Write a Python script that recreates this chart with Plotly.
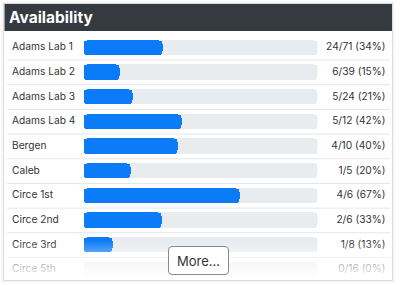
import plotly.graph_objects as go

# ---- data ----
title = "Availability"
rooms = ["Adams Lab 1", "Adams Lab 2", "Adams Lab 3", "Adams Lab 4", "Bergen",
         "Caleb", "Circe 1st", "Circe 2nd", "Circe 3rd", "Circe 5th"]
available = [24, 6, 5, 5, 4, 1, 4, 2, 1, 0]
total = [71, 39, 24, 12, 10, 5, 6, 6, 8, 16]
button_label = "More..."

W, H = 400, 285
frac = [a / t for a, t in zip(available, total)]
pct = [int(100 * f + 0.5) for f in frac]
right_labels = [f"{a}/{t} ({p}%)" for a, t, p in zip(available, total, pct)]
n = len(rooms)

def px(x):
    return x / W

def py(y):
    return 1 - y / H

FONT = "Inter, Roboto, sans-serif"
BLUE = "#0b7bf8"
TRACK = "#e9ecef"
BW = 0.62

fig = go.Figure()

# track right part on normal axis (rounded at right end)
fig.add_trace(go.Bar(y=rooms, x=[0.55] * n, base=[0.45] * n, orientation="h",
                     xaxis="x", yaxis="y",
                     marker=dict(color=TRACK, cornerradius=4, line=dict(width=0)),
                     width=BW, hoverinfo="skip"))
# track left part on reversed axis (rounded at left end)
fig.add_trace(go.Bar(y=rooms, x=[0.55] * n, base=[0.45] * n, orientation="h",
                     xaxis="x3", yaxis="y",
                     marker=dict(color=TRACK, cornerradius=4, line=dict(width=0)),
                     width=BW, hoverinfo="skip"))
# value bars on reversed axis: from position 0 to frac, rounded at left
fig.add_trace(go.Bar(y=rooms, x=frac, base=[1 - f for f in frac], orientation="h",
                     xaxis="x3", yaxis="y",
                     marker=dict(color=BLUE, cornerradius=4, line=dict(width=0)),
                     width=BW, hoverinfo="skip"))

# text labels as traces on a full-width axis (so the fade covers them)
fig.add_trace(go.Scatter(x=[12] * n, y=rooms, mode="text", text=rooms,
                         textposition="middle right", xaxis="x2", yaxis="y",
                         textfont=dict(family=FONT, size=10.2, color="#333"),
                         hoverinfo="skip"))
fig.add_trace(go.Scatter(x=[385.5] * n, y=rooms, mode="text", text=right_labels,
                         textposition="middle left", xaxis="x2", yaxis="y",
                         textfont=dict(family=FONT, size=10.2, color="#333"),
                         hoverinfo="skip"))

shapes = []
# card shadow + border
shapes.append(dict(type="rect", xref="paper", yref="paper", x0=px(2), x1=px(394),
                   y0=py(282), y1=py(2), line=dict(color="rgba(0,0,0,0.06)", width=1),
                   fillcolor="white", layer="below"))
shapes.append(dict(type="rect", xref="paper", yref="paper", x0=px(3.5), x1=px(392.5),
                   y0=py(280.5), y1=py(3.5), line=dict(color="rgba(0,0,0,0.14)", width=1),
                   fillcolor="white", layer="below"))
# header
shapes.append(dict(type="rect", xref="paper", yref="paper", x0=px(4.5), x1=px(392),
                   y0=py(31), y1=py(4), line=dict(width=0), fillcolor="#343a40",
                   layer="below"))
# row separators
for i in range(n - 1):
    shapes.append(dict(type="line", xref="paper", yref="y", x0=px(7), x1=px(390),
                       y0=i + 0.5, y1=i + 0.5, line=dict(color="#e3e6e9", width=1),
                       layer="below"))
# fade overlay
y0f, y1f = 240, 280
for k in range(y1f - y0f):
    a = min(1.0, (k + 0.5) / (y1f - y0f))
    shapes.append(dict(type="rect", xref="paper", yref="paper", x0=px(4), x1=px(392),
                       y0=py(y0f + k + 1), y1=py(y0f + k), line=dict(width=0),
                       fillcolor=f"rgba(255,255,255,{a:.3f})", layer="above"))
# More button (rounded rect path)
bx0, bx1, by0, by1, r = 168.5, 228.5, 246.5, 274.5, 3.5
path = (f"M {px(bx0 + r)},{py(by0)} L {px(bx1 - r)},{py(by0)} "
        f"Q {px(bx1)},{py(by0)} {px(bx1)},{py(by0 + r)} "
        f"L {px(bx1)},{py(by1 - r)} Q {px(bx1)},{py(by1)} {px(bx1 - r)},{py(by1)} "
        f"L {px(bx0 + r)},{py(by1)} Q {px(bx0)},{py(by1)} {px(bx0)},{py(by1 - r)} "
        f"L {px(bx0)},{py(by0 + r)} Q {px(bx0)},{py(by0)} {px(bx0 + r)},{py(by0)} Z")
shapes.append(dict(type="path", xref="paper", yref="paper", path=path,
                   fillcolor="white", line=dict(color="#8a8a8a", width=1), layer="above"))

annotations = [
    dict(text=f"<b>{title}</b>", xref="paper", yref="paper", x=px(6.5), y=py(18),
         xanchor="left", yanchor="middle", showarrow=False,
         font=dict(family=FONT, size=15.5, color="white")),
    dict(text=button_label, xref="paper", yref="paper", x=px(198.5), y=py(260.5),
         xanchor="center", yanchor="middle", showarrow=False,
         font=dict(family=FONT, size=13, color="#333")),
]

ytop, ybot = 35.4, 282.1
track_dom = [px(83.5), px(317.5)]
fig.update_layout(
    width=W, height=H, autosize=False,
    margin=dict(l=0, r=0, t=0, b=0, pad=0),
    paper_bgcolor="white", plot_bgcolor="rgba(0,0,0,0)",
    barmode="overlay", showlegend=False, bargap=0,
    xaxis=dict(domain=track_dom, range=[0, 1], visible=False, fixedrange=True,
               anchor="y"),
    xaxis3=dict(domain=track_dom, range=[1, 0], visible=False, fixedrange=True,
                overlaying="x", anchor="y"),
    xaxis2=dict(domain=[0, 1], range=[0, W], visible=False, fixedrange=True,
                anchor="y"),
    yaxis=dict(domain=[py(ybot), py(ytop)], range=[n - 0.5, -0.5], visible=False,
               type="category", categoryorder="array", categoryarray=rooms,
               fixedrange=True, anchor="x"),
    shapes=shapes, annotations=annotations,
)

fig.write_html("out.html", config={"displayModeBar": False})
